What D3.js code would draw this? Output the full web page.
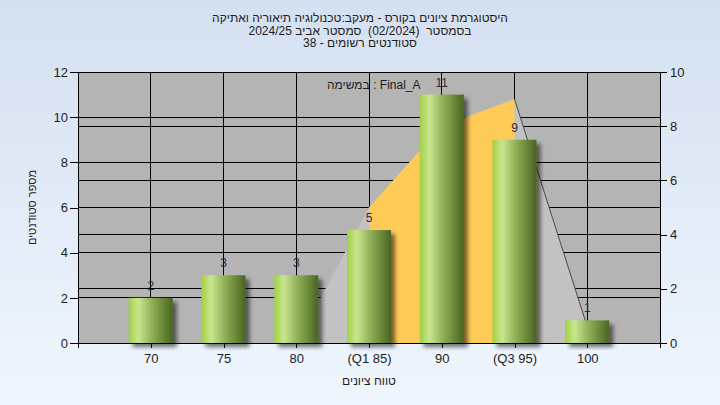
<!DOCTYPE html>
<html><head><meta charset="utf-8">
<script src="https://cdn.jsdelivr.net/npm/d3@7/dist/d3.min.js"></script>
<style>html,body{margin:0;padding:0;}svg{display:block;}</style>
</head><body>
<script>
const categories = ["70","75","80","(Q1 85)","90","(Q3 95)","100"];
const counts = [2,3,3,5,11,9,1];
const curveValues = [0,0,0,5,8,9,0.6];
const q1Index = 3, q3Index = 5;
const leftTicks = [0,2,4,6,8,10,12];
const rightTicks = [0,2,4,6,8,10];
const titleLines = [
  "היסטוגרמת ציונים בקורס - מעקב:טכנולוגיה תיאוריה ואתיקה",
  "בסמסטר  (02/2024)  סמסטר אביב 2024/25",
  "סטודנטים רשומים - 38"
];
const legendText = "במשימה : Final_A";
const xTitle = "טווח ציונים";
const yTitle = "מספר סטודנטים";

const W = 720, H = 405;
const m = {left:78, right:60, top:72, bottom:62};
const font = "'Liberation Sans', Arial, sans-serif";

const svg = d3.select("body").append("svg").attr("width", W).attr("height", H);
const defs = svg.append("defs");
const bg = defs.append("linearGradient").attr("id","bg").attr("x1",0).attr("x2",0).attr("y1",0).attr("y2",1);
bg.append("stop").attr("offset",0).attr("stop-color","#d4e0f1");
bg.append("stop").attr("offset",1).attr("stop-color","#eff6fd");
const bar = defs.append("linearGradient").attr("id","bar").attr("x1",0).attr("x2",1).attr("y1",0).attr("y2",0);
[[0,"#a2d043"],[0.22,"#c9e68f"],[0.5,"#96b45c"],[0.78,"#6a8838"],[1,"#4a6424"]].forEach(s=>
  bar.append("stop").attr("offset",s[0]).attr("stop-color",s[1]));
const f = defs.append("filter").attr("id","sh").attr("x","-20%").attr("y","-20%").attr("width","150%").attr("height","150%");
f.append("feDropShadow").attr("dx",4).attr("dy",4).attr("stdDeviation",2).attr("flood-color","#000").attr("flood-opacity",0.55);

svg.append("rect").attr("width",W).attr("height",H).attr("fill","url(#bg)");

const x = d3.scalePoint().domain(categories).range([m.left, W-m.right]).padding(1);
const yL = d3.scaleLinear().domain([0,12]).range([H-m.bottom, m.top]);
const yR = d3.scaleLinear().domain([0,10]).range([H-m.bottom, m.top]);
const x0 = m.left, x1 = W-m.right, yTop = m.top, yBot = H-m.bottom;

svg.append("rect").attr("x",x0).attr("y",yTop).attr("width",x1-x0).attr("height",yBot-yTop).attr("fill","#b4b4b4");

// grid
const g = svg.append("g").attr("stroke","#000").attr("stroke-width",1).attr("shape-rendering","crispEdges");
leftTicks.forEach(t=>g.append("line").attr("x1",x0).attr("x2",x1).attr("y1",yL(t)).attr("y2",yL(t)));
rightTicks.forEach(t=>g.append("line").attr("x1",x0).attr("x2",x1).attr("y1",yR(t)).attr("y2",yR(t)));
categories.forEach(c=>g.append("line").attr("x1",x(c)).attr("x2",x(c)).attr("y1",yTop).attr("y2",yBot));

// distribution area
const pts = categories.map((c,i)=>({c, v:curveValues[i]}));
const area = d3.area().x(d=>x(d.c)).y0(yBot).y1(d=>yR(d.v));
svg.append("path").datum(pts).attr("d",area).attr("fill","#c2c2c2");
svg.append("path").datum(pts.slice(q1Index,q3Index+1)).attr("d",area).attr("fill","#fecb57");
svg.append("path").datum(pts.slice(q3Index,q3Index+2)).attr("d",d3.line().x(d=>x(d.c)).y(d=>yR(d.v)))
  .attr("fill","none").attr("stroke","#4a4a4a").attr("stroke-width",1);

// value labels
svg.append("g").selectAll("text").data(counts).join("text")
  .attr("x",(d,i)=>x(categories[i])).attr("y",d=>yL(d)-8)
  .attr("text-anchor","middle").attr("font-family",font).attr("font-size",12).attr("fill","#2a2a38")
  .text(d=>d);

// bars
const bw = 44;
svg.append("g").selectAll("rect").data(counts).join("rect")
  .attr("x",(d,i)=>x(categories[i])-bw/2).attr("width",bw)
  .attr("y",d=>yL(d)).attr("height",d=>yBot-yL(d))
  .attr("fill","url(#bar)").attr("filter","url(#sh)");

// axes
const axL = d3.axisLeft(yL).tickValues(leftTicks).tickSize(8).tickPadding(2).tickSizeOuter(0);
const axR = d3.axisRight(yR).tickValues(rightTicks).tickSize(7).tickPadding(3).tickSizeOuter(0);
const axB = d3.axisBottom(x).tickSize(5).tickPadding(6).tickSizeOuter(0);
function style(sel){
  sel.selectAll("path,line").attr("stroke","#000").attr("shape-rendering","crispEdges");
  sel.selectAll("text").attr("font-family",font).attr("font-size",13).attr("fill","#1e1e1e");
}
svg.append("g").attr("transform",`translate(${x0},0)`).call(axL).call(style);
svg.append("g").attr("transform",`translate(${x1},0)`).call(axR).call(style);
svg.append("g").attr("transform",`translate(0,${yBot})`).call(axB).call(style);
svg.selectAll(".domain").remove();
const ax = svg.append("g").attr("stroke","#000").attr("shape-rendering","crispEdges");
ax.append("line").attr("x1",x0).attr("x2",x0).attr("y1",yTop).attr("y2",yBot+5);
ax.append("line").attr("x1",x1).attr("x2",x1).attr("y1",yTop).attr("y2",yBot+5);
ax.append("line").attr("x1",x0).attr("x2",x1).attr("y1",yBot).attr("y2",yBot);

// titles
svg.append("g").selectAll("text").data(titleLines).join("text")
  .attr("x",W/2).attr("y",(d,i)=>22+i*12.5).attr("text-anchor","middle").attr("direction","rtl")
  .attr("xml:space","preserve")
  .attr("font-family",font).attr("font-size",12).attr("fill","#1e1e1e").text(d=>d);
svg.append("text").attr("x",327).attr("y",89).attr("font-family",font).attr("font-size",12)
  .attr("fill","#1e1e1e").text(legendText);
svg.append("text").attr("x",(x0+x1)/2).attr("y",385).attr("text-anchor","middle").attr("direction","rtl")
  .attr("font-family",font).attr("font-size",12).attr("fill","#1e1e1e").text(xTitle);
svg.append("text").attr("transform",`translate(36,${(yTop+yBot)/2}) rotate(-90)`).attr("text-anchor","middle")
  .attr("direction","rtl").attr("font-family",font).attr("font-size",11).attr("fill","#1e1e1e").text(yTitle);
</script>
</body></html>
